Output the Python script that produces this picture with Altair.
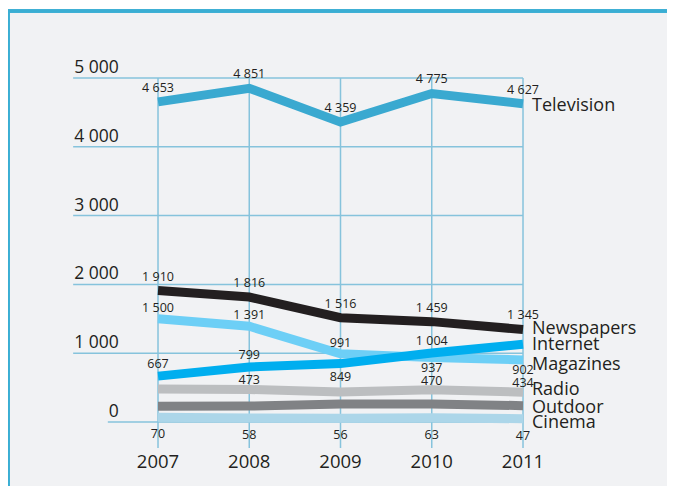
import altair as alt
import pandas as pd

years = [2007, 2008, 2009, 2010, 2011]
series = ["Cinema", "Outdoor", "Radio", "Magazines", "Internet", "Newspapers", "Television"]
television = [4653, 4851, 4359, 4775, 4627]
newspapers = [1910, 1816, 1516, 1459, 1345]
magazines = [1500, 1391, 991, 937, 902]
internet = [667, 799, 849, 1004, 1130]
radio = [480, 473, 436, 470, 434]
outdoor = [230, 232, 262, 262, 238]
cinema = [70, 58, 56, 63, 47]
colors = ["#acd6e9", "#808285", "#bcbec0", "#6dcff6", "#00aeef", "#231f20", "#3aa9d0"]

# which value labels are printed, and whether above or below the line
label_pos = {
    "Television": ["above"] * 5,
    "Newspapers": ["above"] * 5,
    "Magazines": ["above", "above", "above", "below", "below"],
    "Internet": ["above", "above", "below", "above", "none"],
    "Radio": ["none", "above", "none", "above", "above"],
    "Outdoor": ["none"] * 5,
    "Cinema": ["below"] * 5,
}
y_ticks = [0, 1000, 2000, 3000, 4000, 5000]
y_tick_labels = ["0", "1 000", "2 000", "3 000", "4 000", "5 000"]

values = {
    "Television": television, "Newspapers": newspapers, "Magazines": magazines,
    "Internet": internet, "Radio": radio, "Outdoor": outdoor, "Cinema": cinema,
}

rows = []
for si, s in enumerate(series):
    for yi, yr in enumerate(years):
        v = values[s][yi]
        rows.append({"series": s, "year": yr, "value": v,
                     "label": f"{v:,}".replace(",", " "), "pos": label_pos[s][yi]})
df = pd.DataFrame(rows)

W, H = 659, 475
xs = alt.Scale(domain=[2005.356, 2012.578], nice=False, zero=False)
ys = alt.Scale(domain=[-930, 5974], nice=False, zero=False)


def X(f):
    return alt.X(f, scale=xs, axis=None)


def Y(f):
    return alt.Y(f, scale=ys, axis=None)


FONT = "Open Sans"
TXT = "#231f20"
GRID = "#86c3dc"

grid_df = pd.DataFrame({"tick": y_ticks, "tlabel": y_tick_labels})
year_df = pd.DataFrame({"year": years, "ylabel": [str(y) for y in years]})

base_grid = alt.Chart(grid_df)
hgrid = base_grid.transform_calculate(
    xa="datum.tick > 0 ? 2006.07 : 2006.45", xb="2011"
).mark_rule(color=GRID, strokeWidth=1.5).encode(
    x=X("xa:Q"), x2="xb:Q", y=Y("tick:Q"))
ytext = base_grid.transform_calculate(xa="2006.57").mark_text(
    align="right", baseline="alphabetic", dy=-5, fontSize=17.5, font=FONT, color=TXT
).encode(x=X("xa:Q"), y=Y("tick:Q"), text="tlabel:N")

base_year = alt.Chart(year_df)
vgrid = base_year.transform_calculate(ya="5000", yb="-378").mark_rule(
    color=GRID, strokeWidth=1.5).encode(x=X("year:Q"), y=Y("ya:Q"), y2="yb:Q")
xtext = base_year.transform_calculate(ya="-580").mark_text(
    align="center", baseline="middle", fontSize=18.5, font=FONT, color=TXT
).encode(x=X("year:Q"), y=Y("ya:Q"), text="ylabel:N")

line_layers = []
for s, c in zip(series, colors):
    line_layers.append(
        alt.Chart(df[df.series == s]).mark_line(
            strokeWidth=9, strokeCap="butt", strokeJoin="miter", color=c
        ).encode(x=X("year:Q"), y=Y("value:Q"))
    )

# vertical label offsets (styling) per series
above_dy = {"Television": -14, "Newspapers": -14, "Magazines": -11, "Internet": -12, "Radio": -9}
below_dy = {"Magazines": 10, "Internet": 13, "Cinema": 17}
end_dy = {"Television": 2, "Newspapers": 0, "Internet": 1, "Magazines": 5,
          "Radio": -2, "Outdoor": 2, "Cinema": 4}

label_layers = []
for s, d in above_dy.items():
    sub = df[(df.series == s) & (df.pos == "above")]
    label_layers.append(alt.Chart(sub).mark_text(
        baseline="middle", dy=d, fontSize=12.5, font=FONT, color=TXT).encode(
        x=X("year:Q"), y=Y("value:Q"), text="label:N"))
for s, d in below_dy.items():
    sub = df[(df.series == s) & (df.pos == "below")]
    label_layers.append(alt.Chart(sub).mark_text(
        baseline="middle", dy=d, fontSize=12.5, font=FONT, color=TXT).encode(
        x=X("year:Q"), y=Y("value:Q"), text="label:N"))

end_layers = []
for s in series:
    sub = df[(df.year == 2011) & (df.series == s)]
    end_layers.append(alt.Chart(sub).mark_text(
        align="left", baseline="middle", dx=9, dy=end_dy[s], fontSize=18, font=FONT,
        lineHeight=14, color=TXT).encode(x=X("year:Q"), y=Y("value:Q"), text="series:N"))

frame_left = base_year.mark_rule(color="#3aaed3", strokeWidth=3).encode(
    x=alt.value(0), y=alt.value(0), y2=alt.value(H))
frame_top = base_year.mark_rule(color="#3aaed3", strokeWidth=3).encode(
    x=alt.value(0), x2=alt.value(W), y=alt.value(0))

chart = alt.layer(
    hgrid, vgrid, ytext, xtext, *line_layers, *label_layers, *end_layers,
    frame_left, frame_top
).properties(
    width=W, height=H, autosize=alt.AutoSizeParams(type="none"),
    padding={"left": 0, "top": 3, "right": 0, "bottom": 0},
    background="white",
).configure_view(fill="#f1f2f4", stroke="transparent", strokeWidth=0)

chart.save("out.html", embed_options={"renderer": "svg", "actions": False})
